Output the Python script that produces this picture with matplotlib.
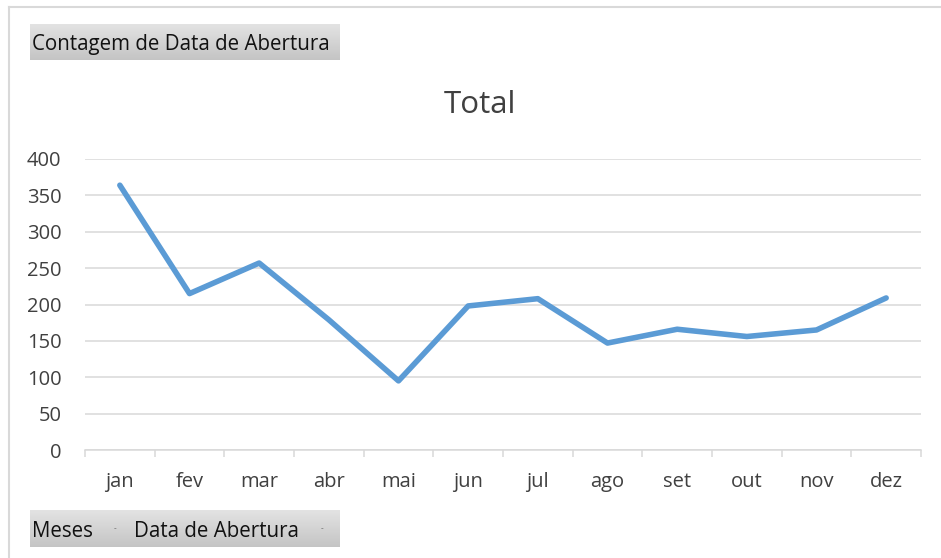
import matplotlib.pyplot as plt
import numpy as np
from matplotlib.lines import Line2D

plt.rcParams['font.family'] = ['Open Sans', 'DejaVu Sans']

# data
meses = ['jan', 'fev', 'mar', 'abr', 'mai', 'jun', 'jul', 'ago', 'set', 'out', 'nov', 'dez']
total = [364, 215, 257, 179, 95, 198, 208, 147, 166, 156, 165, 209]
y_ticks = [0, 50, 100, 150, 200, 250, 300, 350, 400]

W, H = 941, 558
fig = plt.figure(figsize=(W / 100, H / 100), dpi=100)


def px(x0, y0, x1, y1):
    # pixel box (top-left origin) -> figure fraction rect
    return [x0 / W, 1 - y1 / H, (x1 - x0) / W, (y1 - y0) / H]


# outer chart border (only left and top visible)
fig.add_artist(Line2D([9 / W, 9 / W], [0, 1 - 7 / H], transform=fig.transFigure,
                      color='#d9d9d9', lw=1.5))
fig.add_artist(Line2D([9 / W, 1], [1 - 7 / H, 1 - 7 / H], transform=fig.transFigure,
                      color='#d9d9d9', lw=1.5))

ax = fig.add_axes(px(85, 159, 921, 450))
x = np.arange(len(meses))
ax.plot(x, total, color='#5b9bd5', lw=4, solid_capstyle='round', solid_joinstyle='round',
        zorder=3)
ax.set_xlim(-0.5, len(meses) - 0.5)
ax.set_ylim(0, 400)
ax.set_yticks(y_ticks)
ax.set_xticks(x)
ax.set_xticklabels(meses)
ax.set_xticks(np.arange(-0.5, len(meses)), minor=True)
ax.grid(axis='y', color='#d9d9d9', lw=1.1)
for s in ['top', 'right', 'left']:
    ax.spines[s].set_visible(False)
ax.spines['bottom'].set_color('#d9d9d9')
ax.spines['bottom'].set_linewidth(1.1)
ax.tick_params(axis='y', length=0, pad=17, labelsize=14.5, labelcolor='#404040')
ax.tick_params(axis='x', which='major', length=0, pad=16, labelsize=14.5, labelcolor='#404040')
ax.tick_params(axis='x', which='minor', length=5, width=1.1, color='#d9d9d9')

fig.text(480 / W, 1 - 105 / H, 'Total', ha='center', va='center', fontsize=22.5,
         color='#404040')

grad = np.linspace(0, 1, 50).reshape(-1, 1)
top_c = np.array([0.89, 0.89, 0.89])
bot_c = np.array([0.77, 0.77, 0.77])
img = top_c + (bot_c - top_c) * grad[:, :, None]


def button(x0, y0, x1, y1, label, marker=False):
    b = fig.add_axes(px(x0, y0, x1, y1))
    b.imshow(np.repeat(img, 2, axis=1), aspect='auto', extent=[0, 1, 0, 1])
    b.set_xlim(0, 1)
    b.set_ylim(0, 1)
    b.axis('off')
    b.text(2 / (x1 - x0), 0.42, label, ha='left', va='center', fontsize=14.8, color='#111111')
    if marker:
        b.text(1 - 17 / (x1 - x0), 0.5, '-', ha='center', va='center', fontsize=6,
               color='#555555')
    return b


button(30, 24, 340, 60, 'Contagem de Data de Abertura')
button(30, 510, 132, 547, 'Meses', marker=True)
button(132, 510, 339, 547, 'Data de Abertura', marker=True)

fig.savefig('out.png', dpi=100)
